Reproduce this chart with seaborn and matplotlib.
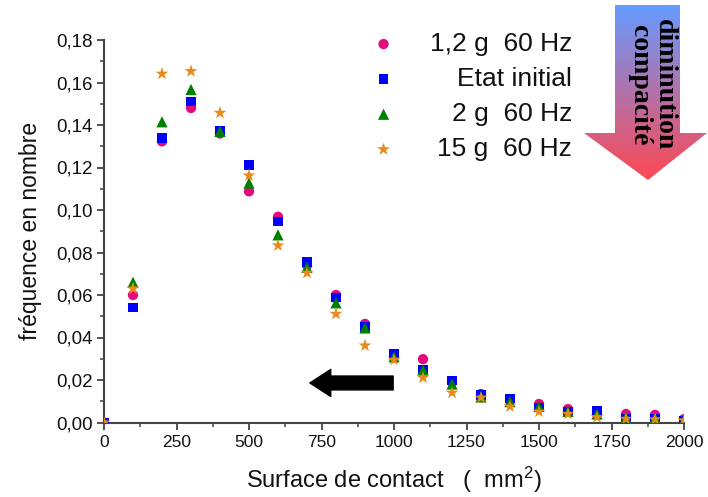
import numpy as np
import pandas as pd
import matplotlib
matplotlib.use("Agg")
import matplotlib.pyplot as plt
import seaborn as sns
from matplotlib.patches import Polygon, FancyArrowPatch
from matplotlib.ticker import MultipleLocator, FixedLocator, FixedFormatter

# ---------------- data ----------------
surface = [0, 100, 200, 300, 400, 500, 600, 700, 800, 900, 1000,
           1100, 1200, 1300, 1400, 1500, 1600, 1700, 1800, 1900, 2000]
f_12g = [0.000, 0.060, 0.1323, 0.148, 0.136, 0.1088, 0.0968, 0.074, 0.060, 0.0464, 0.031,
         0.0298, 0.019, 0.0134, 0.010, 0.0087, 0.0063, 0.004, 0.004, 0.0036, 0.0016]
f_init = [0.000, 0.054, 0.1339, 0.1509, 0.1375, 0.1212, 0.0946, 0.0756, 0.0587, 0.045, 0.0326,
          0.025, 0.0197, 0.013, 0.0114, 0.007, 0.005, 0.0054, 0.002, 0.002, 0.001]
f_2g = [0.000, 0.066, 0.1415, 0.1567, 0.137, 0.1127, 0.0883, 0.073, 0.0563, 0.0445, 0.0309,
        0.0247, 0.0181, 0.012, 0.0098, 0.0075, 0.0052, 0.004, 0.0025, 0.002, 0.001]
f_15g = [0.000, 0.063, 0.1641, 0.1653, 0.1457, 0.1162, 0.0833, 0.0704, 0.0511, 0.0362, 0.0295,
         0.0211, 0.014, 0.0117, 0.0075, 0.0051, 0.004, 0.0025, 0.0017, 0.0015, 0.001]

series_labels = ["1,2 g  60 Hz", "Etat initial", "2 g  60 Hz", "15 g  60 Hz"]
series_values = [f_12g, f_init, f_2g, f_15g]
series_colors = ["#e5097f", "#0000ff", "#008000", "#e8891a"]
series_markers = ["o", "s", "^", "*"]
series_sizes = [55, 45, 65, 95]
draw_order = [1, 0, 2, 3]   # blue underneath, stars on top

xticks = [0, 250, 500, 750, 1000, 1250, 1500, 1750, 2000]
xtick_labels = ["0", "250", "500", "750", "1000", "1250", "1500", "1750", "2000"]
yticks = [0.00, 0.02, 0.04, 0.06, 0.08, 0.10, 0.12, 0.14, 0.16, 0.18]
ytick_labels = ["0,00", "0,02", "0,04", "0,06", "0,08", "0,10", "0,12", "0,14", "0,16", "0,18"]

df = pd.DataFrame({
    "surface": surface * len(series_labels),
    "freq": sum(series_values, []),
    "serie": sum([[lab] * len(surface) for lab in series_labels], []),
})

# ---------------- style ----------------
sns.set_style("white")
plt.rcParams["font.family"] = ["Liberation Sans", "DejaVu Sans"]
plt.rcParams["mathtext.fontset"] = "custom"
plt.rcParams["mathtext.rm"] = "Liberation Sans"
plt.rcParams["mathtext.default"] = "regular"

fig = plt.figure(figsize=(7.08, 4.97), dpi=100)
ax = fig.add_axes([104 / 708, 74.5 / 497, 580 / 708, 382.5 / 497])

for i in draw_order:
    lab = series_labels[i]
    sub = df[df["serie"] == lab]
    sns.scatterplot(data=sub, x="surface", y="freq", ax=ax,
                    color=series_colors[i], marker=series_markers[i],
                    s=series_sizes[i], edgecolor="none", linewidth=0,
                    label=lab, zorder=3 + i, clip_on=True)

ax.set_xlim(0, 2000)
ax.set_ylim(0, 0.18)
ax.xaxis.set_major_locator(FixedLocator(xticks))
ax.xaxis.set_major_formatter(FixedFormatter(xtick_labels))
ax.yaxis.set_major_locator(FixedLocator(yticks))
ax.yaxis.set_major_formatter(FixedFormatter(ytick_labels))
ax.xaxis.set_minor_locator(MultipleLocator(125))
ax.yaxis.set_minor_locator(MultipleLocator(0.01))

for side in ["top", "right"]:
    ax.spines[side].set_visible(False)
for side in ["left", "bottom"]:
    ax.spines[side].set_color("#444444")
    ax.spines[side].set_linewidth(1.5)

ax.tick_params(which="major", direction="out", length=5, width=1.3,
               color="#444444", pad=3, labelcolor="#111111",
               bottom=True, left=True)
ax.tick_params(which="minor", direction="out", length=3, width=1.1,
               color="#444444", bottom=True, left=True)
ax.tick_params(axis="y", labelsize=13.5)
ax.tick_params(axis="x", labelsize=12.5, pad=4)

ax.set_xlabel("Surface de contact   (  mm$^{2}$)", fontsize=17, labelpad=11, color="#111111")
ax.set_ylabel("fréquence en nombre", fontsize=16.5, labelpad=10, color="#111111")

# ---------------- legend (labels right aligned) ----------------
h, l = ax.get_legend_handles_labels()
lookup = dict(zip(l, h))
leg = ax.legend([lookup[s] for s in series_labels], series_labels,
                loc="upper left", bbox_to_anchor=(373 / 708, 1 - 32 / 497),
                bbox_transform=fig.transFigure, frameon=False, fontsize=19,
                handlelength=0.8, handletextpad=1.35, labelspacing=0.42,
                borderpad=0, borderaxespad=0, markerscale=1.0)

fig.canvas.draw()
renderer = fig.canvas.get_renderer()
texts = leg.get_texts()
widths = [t.get_window_extent(renderer).width for t in texts]
wmax = max(widths)
for t, w in zip(texts, widths):
    t.set_position((wmax - w, 0))
    t.set_color("#111111")

# ---------------- black arrow ----------------
arrow = FancyArrowPatch(posA=(997, 0.0186), posB=(710, 0.0186),
                        arrowstyle="simple,head_length=15,head_width=19.5,tail_width=10",
                        mutation_scale=1, color="black", shrinkA=0, shrinkB=0,
                        zorder=10)
ax.add_patch(arrow)

# ---------------- gradient arrow ----------------
gax = fig.add_axes([583 / 708, 1 - 182 / 497, 125 / 708, 182 / 497])
gax.set_xlim(583, 708)
gax.set_ylim(182, 0)
gax.axis("off")
grad = np.linspace(0, 1, 256).reshape(-1, 1)
top = np.array([0.40, 0.61, 1.00])
bot = np.array([1.00, 0.28, 0.32])
img = top[None, None, :] * (1 - grad[:, :, None]) + bot[None, None, :] * grad[:, :, None]
im = gax.imshow(img, extent=(583, 708, 182, 5), aspect="auto", interpolation="bilinear")
poly = Polygon([(615, 5), (680, 5), (680, 133), (707, 133), (648, 180),
                (584, 133), (615, 133)], closed=True, facecolor="none", edgecolor="none")
gax.add_patch(poly)
im.set_clip_path(poly)
gax.text(652, 85, "diminution\ncompacité", rotation=-90, ha="center", va="center",
         fontsize=20, fontweight="bold", family=["Liberation Serif", "DejaVu Serif"],
         linespacing=0.95, color="black")

fig.savefig("out.png", dpi=100)
